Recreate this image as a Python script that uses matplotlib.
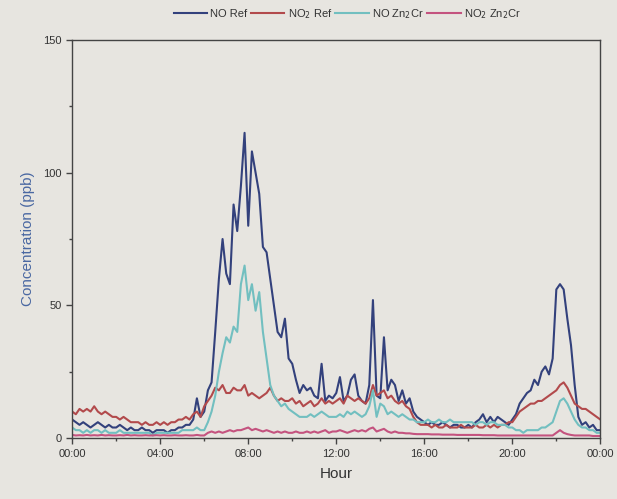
import numpy as np
import matplotlib
matplotlib.use("Agg")
import matplotlib.pyplot as plt
from matplotlib.ticker import MultipleLocator

plt.rcParams['font.family'] = ['Liberation Sans', 'DejaVu Sans']

# 10-minute samples, 00:00 .. 24:00 (12 values per row = 2 hours)
no_ref = [
    7, 6, 5, 6, 5, 4, 5, 6, 5, 4, 5, 4,
    4, 5, 4, 3, 4, 3, 3, 4, 3, 3, 2, 3,
    3, 3, 2, 3, 3, 4, 4, 5, 5, 7, 15, 8,
    10, 18, 21, 40, 60, 75, 62, 58, 88, 78, 95, 115,
    80, 108, 100, 92, 72, 70, 60, 50, 40, 38, 45, 30,
    28, 22, 17, 20, 18, 19, 16, 15, 28, 14, 16, 15,
    17, 23, 14, 16, 22, 24, 16, 14, 13, 20, 52, 16,
    15, 38, 18, 22, 20, 14, 18, 13, 15, 10, 8, 7,
    6, 5, 6, 5, 5, 6, 5, 4, 5, 5, 4, 4,
    5, 4, 6, 7, 9, 6, 8, 6, 8, 7, 6, 5,
    7, 9, 13, 15, 17, 18, 22, 20, 25, 27, 24, 30,
    56, 58, 56, 45, 35, 20, 8, 5, 6, 4, 5, 3,
    3,
]
no2_ref = [
    10, 9, 11, 10, 11, 10, 12, 10, 9, 10, 9, 8,
    8, 7, 8, 7, 6, 6, 6, 5, 6, 5, 5, 6,
    5, 6, 5, 6, 6, 7, 7, 8, 7, 9, 10, 8,
    12, 14, 16, 19, 18, 20, 17, 17, 19, 18, 18, 20,
    16, 17, 16, 15, 16, 17, 19, 16, 14, 15, 14, 14,
    15, 13, 14, 12, 13, 14, 12, 13, 15, 13, 14, 13,
    14, 15, 13, 16, 15, 14, 15, 14, 13, 15, 20, 16,
    17, 18, 15, 16, 14, 13, 14, 12, 11, 8, 6, 5,
    5, 5, 4, 5, 4, 4, 5, 4, 4, 4, 5, 4,
    4, 4, 5, 4, 4, 5, 4, 5, 4, 5, 5, 6,
    6, 8, 10, 11, 12, 13, 13, 14, 14, 15, 16, 17,
    18, 20, 21, 19, 16, 13, 12, 11, 11, 10, 9, 8,
    7,
]
no_zn = [
    4, 3, 3, 2, 3, 2, 3, 3, 2, 3, 2, 2,
    2, 3, 2, 2, 2, 2, 2, 2, 2, 2, 1, 2,
    2, 2, 2, 2, 2, 2, 3, 3, 3, 3, 4, 3,
    3, 6, 10, 16, 25, 32, 38, 36, 42, 40, 58, 65,
    52, 58, 48, 55, 40, 30, 20, 16, 14, 12, 13, 11,
    10, 9, 8, 8, 8, 9, 8, 9, 10, 9, 8, 8,
    8, 9, 8, 10, 9, 10, 9, 8, 9, 12, 18, 8,
    13, 12, 9, 10, 9, 8, 9, 8, 7, 7, 6, 6,
    6, 7, 6, 6, 7, 6, 6, 7, 6, 6, 6, 6,
    6, 6, 5, 6, 6, 5, 6, 6, 5, 5, 5, 4,
    4, 3, 3, 2, 3, 3, 3, 3, 4, 4, 5, 6,
    10, 14, 15, 13, 10, 7, 5, 4, 4, 3, 3, 2,
    2,
]
no2_zn = [
    1.2, 1.0, 1.1, 1.0, 1.2, 1.0, 1.1, 1.0, 1.2, 1.0, 1.1, 1.0,
    1.0, 1.1, 1.0, 1.2, 1.0, 1.1, 1.0, 1.0, 1.1, 1.0, 1.0, 1.1,
    1.0, 1.1, 1.0, 1.0, 1.1, 1.0, 1.0, 1.1, 1.0, 1.0, 1.2, 1.0,
    1.0, 2.0, 2.5, 2.0, 2.5, 2.0, 2.5, 3.0, 2.5, 3.0, 3.0, 3.5,
    4.0, 3.0, 3.5, 3.0, 2.5, 3.0, 2.5, 2.0, 2.5, 2.0, 2.5, 2.0,
    2.0, 2.5, 2.0, 2.0, 2.5, 2.0, 2.5, 2.0, 2.5, 3.0, 2.0, 2.5,
    2.5, 3.0, 2.5, 2.0, 2.5, 3.0, 2.5, 3.0, 2.5, 3.5, 4.0, 2.5,
    3.0, 3.5, 2.5, 2.0, 2.5, 2.0, 2.0, 1.8, 1.8, 1.6, 1.5, 1.5,
    1.5, 1.5, 1.4, 1.4, 1.4, 1.3, 1.3, 1.3, 1.3, 1.2, 1.2, 1.2,
    1.2, 1.2, 1.2, 1.2, 1.1, 1.1, 1.1, 1.1, 1.0, 1.0, 1.0, 1.0,
    1.0, 1.0, 1.0, 1.0, 1.0, 1.0, 1.0, 1.0, 1.0, 1.0, 1.0, 1.0,
    2.0, 3.0, 2.0, 1.5, 1.2, 1.0, 1.0, 1.0, 1.0, 1.0, 0.8, 0.8,
    0.8,
]
tick_hours = [0, 4, 8, 12, 16, 20, 24]
tick_labels = ["00:00", "04:00", "08:00", "12:00", "16:00", "20:00", "00:00"]
series_labels = ["NO Ref", "NO$_2$ Ref", "NO Zn$_2$Cr", "NO$_2$ Zn$_2$Cr"]
series_colors = ["#33417c", "#b24a4c", "#72bfc0", "#c4537f"]

bg = "#e7e5e0"
fig = plt.figure(figsize=(6.17, 4.99), dpi=100, facecolor=bg)
ax = fig.add_axes([0.117, 0.122, 0.856, 0.798], facecolor=bg)

for data, lab, col in zip([no_ref, no2_ref, no_zn, no2_zn], series_labels, series_colors):
    t = np.linspace(0, 24, len(data))
    ax.plot(t, data, color=col, lw=1.5, label=lab)

ax.set_xlim(0, 24)
ax.set_ylim(0, 150)
ax.set_xticks(tick_hours)
ax.set_xticklabels(tick_labels)
ax.xaxis.set_minor_locator(MultipleLocator(2))
ax.set_yticks([0, 50, 100, 150])
ax.yaxis.set_minor_locator(MultipleLocator(25))
ax.tick_params(axis="both", which="major", direction="out", length=4, width=1,
               color="#444444", labelcolor="#333333", labelsize=8)
ax.tick_params(axis="both", which="minor", direction="out", length=2.5, width=1,
               color="#444444")
for s in ax.spines.values():
    s.set_color("#444444")
    s.set_linewidth(1.0)

ax.set_xlabel("Hour", fontsize=11, color="#333333", labelpad=6)
ax.set_ylabel("Concentration (ppb)", fontsize=11, color="#4a68a2", labelpad=6)

fig.legend(loc="center", bbox_to_anchor=(0.563, 0.972), ncol=4, frameon=False,
           fontsize=8, handlelength=3.0, handletextpad=0.3, columnspacing=0.3,
           labelcolor="#333333")

fig.savefig("out.png", dpi=100, facecolor=bg)
